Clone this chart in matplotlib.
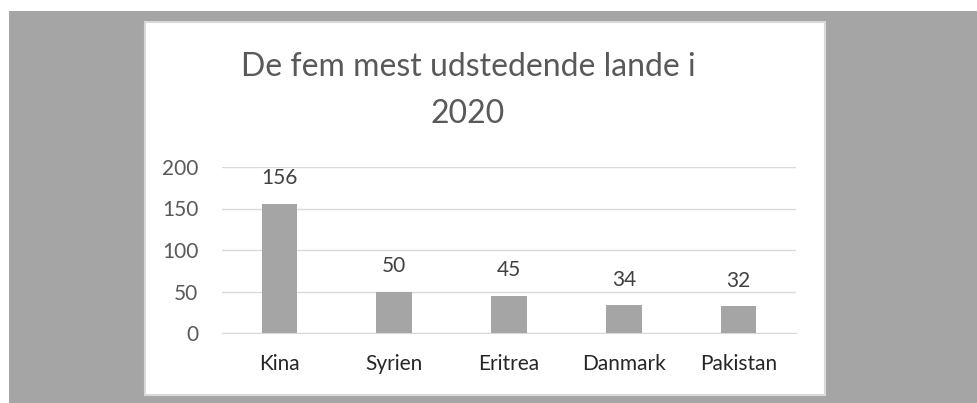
import matplotlib.pyplot as plt
from matplotlib.patches import Rectangle

# data
lande = ["Kina", "Syrien", "Eritrea", "Danmark", "Pakistan"]
antal = [156, 50, 45, 34, 32]
y_ticks = [0, 50, 100, 150, 200]

W, H = 978, 403
plt.rcParams['font.family'] = ['Lato', 'DejaVu Sans']

fig = plt.figure(figsize=(W / 100, H / 100), dpi=100, facecolor="white")

# grey background and white chart panel
fig.patches.append(Rectangle((9 / W, 0), 1 - 9 / W, (H - 11) / H,
                             transform=fig.transFigure, facecolor="#A5A5A5",
                             edgecolor="none", zorder=0))
fig.patches.append(Rectangle((145 / W, (H - 395) / H), 680 / W, 373 / H,
                             transform=fig.transFigure, facecolor="white",
                             edgecolor="#D9D9D9", linewidth=1.5, zorder=1))

ax = fig.add_axes([222 / W, (H - 333) / H, (796 - 222) / W, (333 - 167) / H])
ax.set_facecolor("none")
ax.set_zorder(2)

bars = ax.bar(range(len(lande)), antal, width=0.31, color="#A5A5A5", zorder=3)
ax.bar_label(bars, padding=11, fontsize=15, color="#404040")

ax.set_xlim(-0.5, len(lande) - 0.5)
ax.set_ylim(0, 200)
ax.set_yticks(y_ticks)
ax.set_xticks(range(len(lande)))
ax.set_xticklabels(lande)
ax.yaxis.grid(True, color="#D9D9D9", linewidth=1)
ax.set_axisbelow(True)
for s in ["top", "right", "left"]:
    ax.spines[s].set_visible(False)
ax.spines["bottom"].set_color("#D9D9D9")
ax.tick_params(axis="y", length=0, pad=17, labelsize=15, labelcolor="#595959")
ax.tick_params(axis="x", length=0, pad=15, labelsize=15, labelcolor="#262626")

# title in two lines
fig.text(468 / W, 1 - 67 / H, "De fem mest udstedende lande i", ha="center",
         va="center", fontsize=23, color="#595959")
fig.text(468 / W, 1 - 114 / H, "2020", ha="center", va="center",
         fontsize=23, color="#595959")

fig.savefig("out.png", dpi=100)
